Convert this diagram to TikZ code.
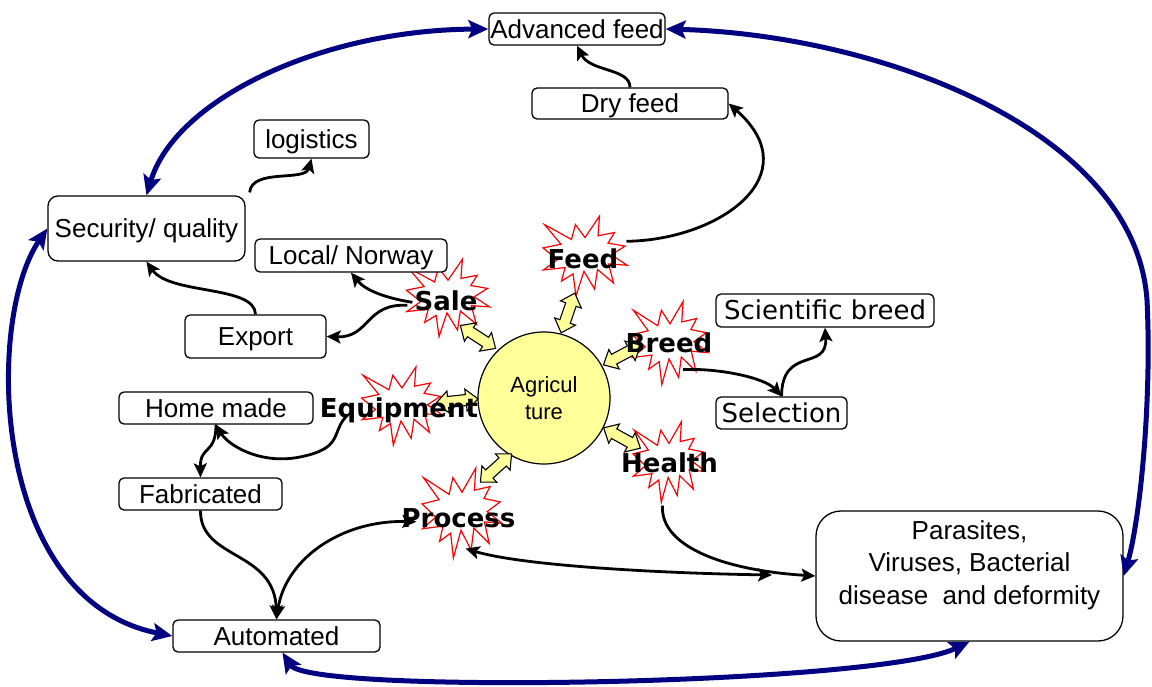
\documentclass[tikz,border=0pt]{standalone}
\usepackage{fontspec}
\setmainfont{Liberation Sans}
\newfontfamily\dejavu{DejaVu Sans}
\usetikzlibrary{arrows.meta}
\definecolor{navyline}{RGB}{0,0,128}
\definecolor{paleyellow}{RGB}{255,255,153}

\begin{document}
\begin{tikzpicture}[x=1pt,y=-1pt,
  box/.style={draw=black, line width=1.3pt, rounded corners=5pt, fill=white,
    inner sep=0pt, font=\fontsize{26}{30}\selectfont, text height=18.7pt, text depth=0pt},
  tag/.style={font=\fontsize{26}{30}\selectfont\dejavu\bfseries, inner sep=0pt, anchor=base},
  conn/.style={line width=2.8pt, -{Stealth[length=14pt,width=13pt,inset=3pt]}},
  conntwo/.style={line width=2.8pt, {Stealth[length=14pt,width=13pt,inset=3pt]}-{Stealth[length=14pt,width=13pt,inset=3pt]}},
  bigconn/.style={draw=navyline, line width=5pt,
    {Stealth[length=20pt,width=18pt,inset=4pt]}-{Stealth[length=20pt,width=18pt,inset=4pt]}},
  burst/.pic={\draw[red, line width=1.2pt, fill=white, line join=miter]
    (0,-19.4) -- (13.8,-42) -- (12.4,-21.3) -- (28.1,-24.7) -- (21.9,-13.6) -- (38.1,-10.4)
    -- (25.2,-1.3) -- (40,9.7) -- (22.4,8.3) -- (27.2,28.4) -- (11.9,14.2) -- (9.1,34.8)
    -- (-1.0,16.1) -- (-8.6,42) -- (-11.4,18.8) -- (-22.4,26.5) -- (-19.0,12.2) -- (-39.5,14.7)
    -- (-26.2,3.8) -- (-40,-8.5) -- (-22.9,-12.4) -- (-38.6,-33.1) -- (-12.9,-17.4) -- (-9.1,-33.1) -- cycle;},
  dblarrow/.pic={\draw[line width=1.1pt, fill=paleyellow, line join=miter]
    (-21,0) -- (-9,-11) -- (-9,-5.5) -- (9,-5.5) -- (9,-11) -- (21,0) -- (9,11) -- (9,5.5)
    -- (-9,5.5) -- (-9,11) -- cycle;}
]
\useasboundingbox[fill=white] (0,0) rectangle (1152,686);

% central hub
\node[circle, draw, line width=1.2pt, fill=paleyellow, minimum size=132pt, inner sep=0pt,
  align=center, font=\fontsize{22}{27}\selectfont] (agri) at (544,398) {Agricul\\ture};

% explosion shapes around the hub
\pic[xscale=1.05, yscale=0.95] at (585,256) {burst};
\pic[xscale=1.04, yscale=0.92] at (448,298) {burst};
\pic[xscale=0.95, yscale=0.99] at (670,343) {burst};
\pic[xscale=1.01, yscale=0.93] at (402,406) {burst};
\pic[xscale=0.90, yscale=0.96] at (669,462) {burst};
\pic[xscale=1.00, yscale=1.07] at (462,513) {burst};

% two-way block arrows between hub and topics
\pic[rotate=-33] at (478,337) {dblarrow};
\pic[rotate=71] at (568,313) {dblarrow};
\pic[rotate=28] at (622,355) {dblarrow};
\pic[rotate=6] at (457,401) {dblarrow};
\pic[rotate=-29] at (622,438) {dblarrow};
\pic[rotate=42] at (496,468) {dblarrow};

% topic labels
\node[tag] (feed) at (583,268) {Feed};
\node[tag] (sale) at (446,310) {Sale};
\node[tag] (breed) at (669,352) {Breed};
\node[tag] (equip) at (399,417) {Equipment};
\node[tag] (health) at (669.5,472) {Health};
\node[tag] (process) at (458.5,527) {Process};

% boxes
\node[box, minimum width=176pt, minimum height=32pt] (adv) at (577,29) {Advanced feed};
\node[box, minimum width=196pt, minimum height=31pt] (dry) at (630,103.5) {Dry feed};
\node[box, minimum width=115pt, minimum height=38pt] (logi) at (311.5,139) {logistics};
\node[box, rounded corners=10pt, minimum width=197pt, minimum height=65pt] (secq) at (146.5,228.5) {Security/ quality};
\node[box, minimum width=192pt, minimum height=33pt] (local) at (351,255.5) {Local/ Norway};
\node[box, minimum width=141pt, minimum height=43pt] (export) at (255.5,336.5) {Export};
\node[box, minimum width=194pt, minimum height=32pt] (home) at (216,408) {Home made};
\node[box, minimum width=163pt, minimum height=32pt] (fab) at (200.5,494) {Fabricated};
\node[box, minimum width=207pt, minimum height=32pt] (auto) at (276.5,636) {Automated};
\node[box, font=\fontsize{26}{30}\selectfont\dejavu, minimum width=218pt, minimum height=33pt] (sci) at (825,310.5) {Scientific breed};
\node[box, font=\fontsize{26}{30}\selectfont\dejavu, minimum width=131pt, minimum height=32pt] (sel) at (781.5,413) {Selection};
\node[box, rounded corners=25pt, minimum width=307pt, minimum height=130pt] (para) at (969.5,576) {};
\node[font=\fontsize{26}{32.5}\selectfont, align=center, inner sep=0pt] (paratext) at (969.5,565)
  {Parasites,\\Viruses, Bacterial\\disease\ \ and deformity};

\coordinate (procend) at (772,575);

% black connectors
\draw[conn] (dry.north) .. controls (630,68) and (590,72) .. (adv.south);
\draw[conn] ([shift={(8,-17)}]feed.east) .. controls (720,240) and (810,175) .. (dry.east);
\draw[conn] ([shift={(14,17)}]breed.south) .. controls (720,368) and (765,378) .. (sel.north);
\draw[conn] (sel.north) .. controls (782,345) and (828,372) .. (sci.south);
\draw[conn] ([shift={(4,-3)}]secq.north east) .. controls (252,168) and (305,182) .. (logi.south);
\draw[conn] (export.north) .. controls (255,285) and (170,295) .. (secq.south);
\draw[conn] ([shift={(-2,2)}]sale.west) .. controls (385,298) and (365,290) .. (local.south);
\draw[conn] ([shift={(-7,5)}]sale.west) .. controls (365,303) and (370,338) .. (export.east);
\draw[conn] ([shift={(28,5)}]equip.west) .. controls (330,432) and (345,448) .. (300,457)
  .. controls (260,465) and (228,445) .. (home.south);
\draw[conn] (home.south) .. controls (216,455) and (200,445) .. (fab.north);
\draw[conn] (fab.south) .. controls (200,560) and (275,550) .. (auto.north);
\draw[conntwo] (auto.north) .. controls (285,560) and (340,520) .. ([shift={(15,4)}]process.west);
\draw[conntwo] ([shift={(7,21)}]process.south) .. controls (520,565) and (650,573) .. (procend);
\draw[conn] ([shift={(-7,33)}]health.south) .. controls (660,545) and (720,570) .. (para.west);

% outer loop
\draw[bigconn] (secq.north) .. controls (175,100) and (320,30) .. (adv.west);
\draw[bigconn] (adv.east) .. controls (880,35) and (1135,130) .. (1147,300)
  .. controls (1152,400) and (1140,520) .. (para.east);
\draw[bigconn] (secq.west) .. controls (-15,320) and (-10,600) .. (auto.west);
\draw[bigconn] ([xshift=6pt]auto.south) .. controls (310,695) and (880,685) .. (para.south);
\end{tikzpicture}
\end{document}
